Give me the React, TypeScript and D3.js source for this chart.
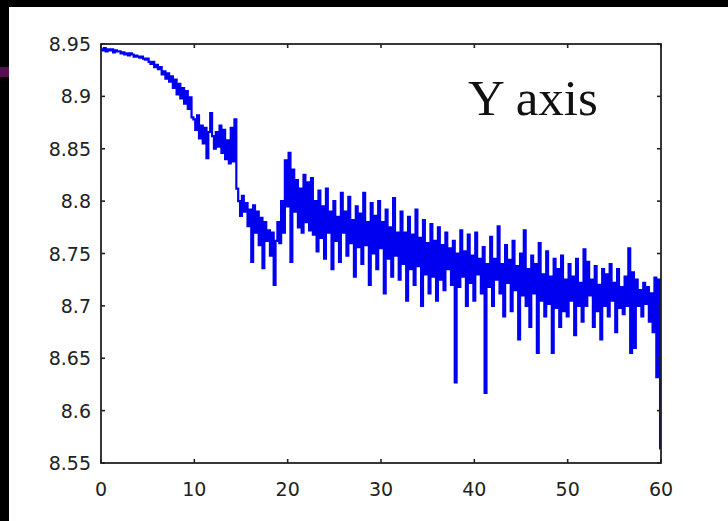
import React from "react";
import * as d3 from "d3";

const yTicks = [8.55, 8.6, 8.65, 8.7, 8.75, 8.8, 8.85, 8.9, 8.95];
const yTickLabels = ["8.55", "8.6", "8.65", "8.7", "8.75", "8.8", "8.85", "8.9", "8.95"];
const xTicks = [0, 10, 20, 30, 40, 50, 60];
const tStep = 0.2;
const values: number[] = [
  8.945, 8.944, 8.946, 8.943, 8.945, 8.944, 8.945, 8.942, 8.944, 8.943,
  8.943, 8.941, 8.942, 8.940, 8.941, 8.939, 8.941, 8.940, 8.938, 8.939,
  8.938, 8.937, 8.938, 8.936, 8.935, 8.936, 8.933, 8.931, 8.933, 8.928,
  8.930, 8.926, 8.928, 8.921, 8.924, 8.917, 8.922, 8.914, 8.919, 8.908,
  8.916, 8.902, 8.912, 8.898, 8.908, 8.893, 8.905, 8.888, 8.899, 8.880,
  8.878, 8.868, 8.882, 8.860, 8.872, 8.855, 8.870, 8.841, 8.866, 8.884,
  8.862, 8.850, 8.866, 8.852, 8.872, 8.846, 8.868, 8.840, 8.858, 8.836,
  8.870, 8.838, 8.878, 8.812, 8.800, 8.786, 8.805, 8.790, 8.798, 8.776,
  8.792, 8.742, 8.796, 8.770, 8.790, 8.758, 8.784, 8.736, 8.780, 8.762,
  8.772, 8.748, 8.770, 8.720, 8.762, 8.780, 8.760, 8.800, 8.770, 8.839,
  8.795, 8.846, 8.742, 8.830, 8.790, 8.820, 8.775, 8.812, 8.770, 8.825,
  8.780, 8.818, 8.772, 8.822, 8.768, 8.800, 8.752, 8.810, 8.765, 8.795,
  8.745, 8.812, 8.770, 8.790, 8.735, 8.800, 8.762, 8.785, 8.742, 8.808,
  8.770, 8.790, 8.748, 8.804, 8.760, 8.782, 8.728, 8.795, 8.756, 8.788,
  8.740, 8.808, 8.758, 8.780, 8.720, 8.798, 8.750, 8.786, 8.735, 8.800,
  8.755, 8.780, 8.712, 8.792, 8.745, 8.775, 8.728, 8.803, 8.748, 8.770,
  8.725, 8.790, 8.740, 8.770, 8.705, 8.785, 8.735, 8.768, 8.720, 8.792,
  8.738, 8.765, 8.700, 8.782, 8.730, 8.760, 8.712, 8.778, 8.728, 8.762,
  8.705, 8.775, 8.725, 8.758, 8.715, 8.770, 8.735, 8.755, 8.720, 8.762,
  8.627, 8.750, 8.718, 8.772, 8.728, 8.752, 8.700, 8.768, 8.722, 8.748,
  8.705, 8.770, 8.730, 8.745, 8.712, 8.756, 8.617, 8.740, 8.718, 8.766,
  8.700, 8.745, 8.725, 8.776, 8.712, 8.740, 8.690, 8.758, 8.722, 8.744,
  8.695, 8.762, 8.715, 8.738, 8.668, 8.750, 8.710, 8.772, 8.700, 8.735,
  8.680, 8.748, 8.712, 8.740, 8.655, 8.760, 8.705, 8.730, 8.690, 8.752,
  8.702, 8.728, 8.655, 8.745, 8.698, 8.735, 8.680, 8.748, 8.695, 8.725,
  8.690, 8.740, 8.705, 8.728, 8.672, 8.745, 8.700, 8.722, 8.685, 8.754,
  8.700, 8.742, 8.710, 8.725, 8.680, 8.738, 8.695, 8.720, 8.668, 8.735,
  8.700, 8.730, 8.690, 8.740, 8.705, 8.722, 8.675, 8.735, 8.698, 8.718,
  8.692, 8.728, 8.700, 8.755, 8.655, 8.732, 8.660, 8.725, 8.700, 8.715,
  8.690, 8.722, 8.702, 8.718, 8.685, 8.712, 8.675, 8.727, 8.632, 8.725,
  8.564,
];
const annotation = "Y axis";

export default function App() {
  const W = 728, H = 521;
  const left = 101, right = 661, top = 44, bottom = 463;
  const x = d3.scaleLinear().domain([0, 60]).range([left, right]);
  const y = d3.scaleLinear().domain([8.55, 8.95]).range([bottom, top]);
  const pts: [number, number][] = values.map((v, i) => [i * tStep, v]);
  const line = d3
    .line<[number, number]>()
    .x((d) => x(d[0]))
    .y((d) => y(d[1]))
    .curve(d3.curveStep);
  const tickLen = 4;
  const font = "'DejaVu Sans', sans-serif";
  return (
    <svg
      width={W}
      height={H}
      style={{ position: "absolute", left: 0, top: 0, display: "block" }}
    >
      <rect x={0} y={0} width={W} height={H} fill="#000" />
      <rect x={9} y={7} width={W - 9} height={H - 7} fill="#fff" />
      <rect x={0} y={67} width={9} height={10} fill="#5a0e52" />
      <path
        d={line(pts) || ""}
        fill="none"
        stroke="#0000f0"
        strokeWidth={2.2}
        strokeLinejoin="miter"
      />
      <rect
        x={left}
        y={top}
        width={right - left}
        height={bottom - top}
        fill="none"
        stroke="#222"
        strokeWidth={1.8}
      />
      {yTicks.map((t, i) => (
        <g key={"y" + i}>
          <line x1={left} x2={left + tickLen} y1={y(t)} y2={y(t)} stroke="#222" strokeWidth={1.6} />
          <line x1={right} x2={right - tickLen} y1={y(t)} y2={y(t)} stroke="#222" strokeWidth={1.6} />
          <text
            x={91}
            y={y(t) + 7}
            textAnchor="end"
            fontFamily={font}
            fontSize={19}
            fill="#222"
          >
            {yTickLabels[i]}
          </text>
        </g>
      ))}
      {xTicks.map((t, i) => (
        <g key={"x" + i}>
          <line x1={x(t)} x2={x(t)} y1={bottom} y2={bottom - tickLen} stroke="#222" strokeWidth={1.6} />
          <line x1={x(t)} x2={x(t)} y1={top} y2={top + tickLen} stroke="#222" strokeWidth={1.6} />
          <text
            x={x(t)}
            y={496}
            textAnchor="middle"
            fontFamily={font}
            fontSize={19}
            fill="#222"
          >
            {String(t)}
          </text>
        </g>
      ))}
      <text
        x={468}
        y={115}
        fontFamily="'Liberation Serif', 'DejaVu Serif', serif"
        fontSize={51}
        fill="#111"
      >
        {annotation}
      </text>
    </svg>
  );
}
